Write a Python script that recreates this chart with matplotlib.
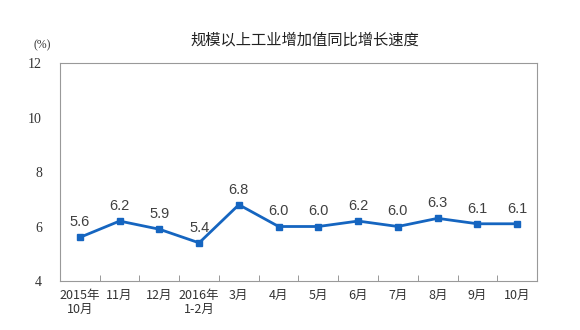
import matplotlib
matplotlib.use("Agg")
import matplotlib.pyplot as plt
import numpy as np

plt.rcParams['font.family'] = ['Noto Sans CJK SC', 'DejaVu Sans']

maaneder = ["2015年\n10月", "11月", "12月", "2016年\n1-2月", "3月", "4月",
            "5月", "6月", "7月", "8月", "9月", "10月"]
vekst = [5.6, 6.2, 5.9, 5.4, 6.8, 6.0, 6.0, 6.2, 6.0, 6.3, 6.1, 6.1]
yticks = [4, 6, 8, 10, 12]
tittel = "规模以上工业增加值同比增长速度"

fig = plt.figure(figsize=(5.8, 3.3), dpi=100)
ax = fig.add_axes([0.1034, 0.1485, 0.8225, 0.6605])

x = np.arange(len(vekst))
ax.plot(x, vekst, color="#1565c0", linewidth=2, marker="s", markersize=5)

for xi, yi in zip(x, vekst):
    ax.text(xi, yi + 0.3, f"{yi:.1f}", ha="center", va="bottom",
            fontsize=10.5, color="#404040", family=["Liberation Sans"])

ax.set_xlim(-0.5, len(vekst) - 0.5)
ax.set_ylim(4, 12)
ax.set_yticks(yticks)
ax.set_yticklabels([str(t) for t in yticks], family=["Liberation Serif"],
                   fontsize=10, color="#333333")
ax.set_xticks(x)
ax.set_xticklabels(maaneder, fontsize=9, color="#333333", linespacing=1.1)
ax.set_xticks(np.arange(0.5, len(vekst) - 0.5, 1), minor=True)
ax.tick_params(axis="x", which="major", length=0, pad=6)
ax.tick_params(axis="x", which="minor", length=4, direction="in", color="#888888")
ax.tick_params(axis="y", length=0, pad=13)

for s in ax.spines.values():
    s.set_color("#999999")
    s.set_linewidth(0.8)

fig.text(0.526, 0.88, tittel, ha="center", va="center", fontsize=11, color="#222222")
fig.text(0.072, 0.862, "(%)", ha="center", va="center", fontsize=8.5,
         family=["Liberation Serif"], color="#333333")

fig.savefig("out.png", dpi=100)
